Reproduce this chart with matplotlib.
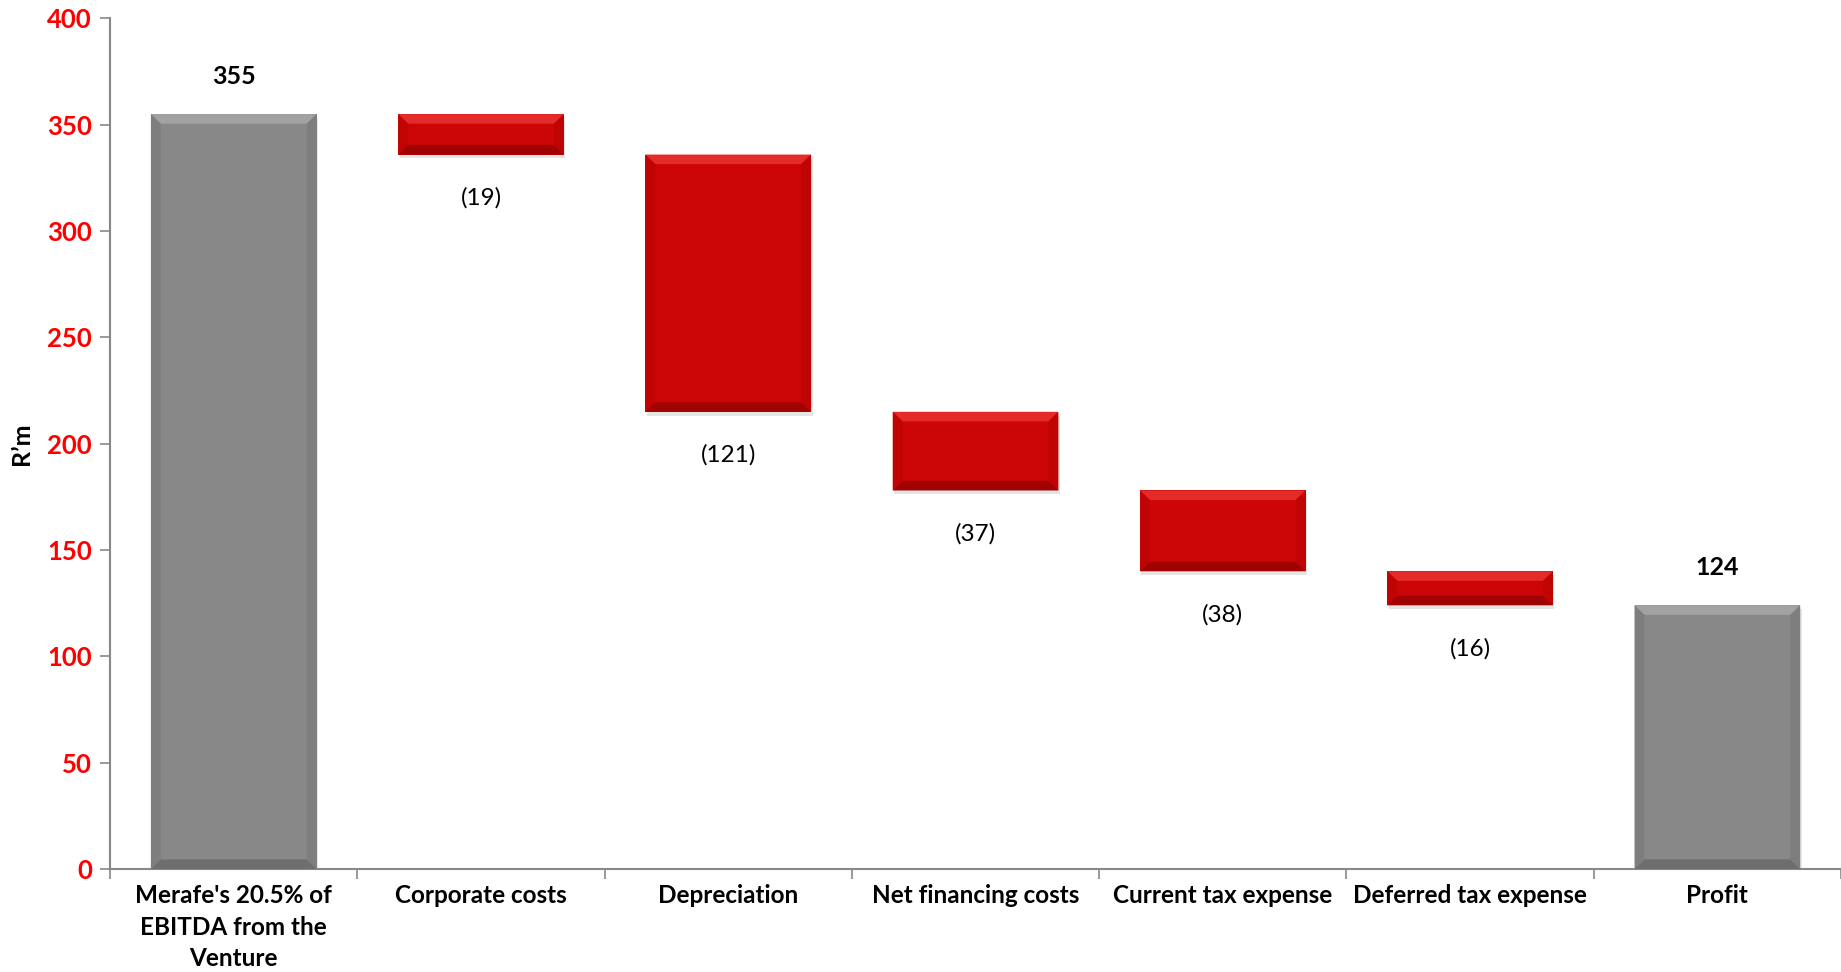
import numpy as np
import matplotlib
matplotlib.use("Agg")
import matplotlib.pyplot as plt
from matplotlib.patches import Polygon, Rectangle

plt.rcParams['font.family'] = ['Lato', 'DejaVu Sans']

categories = ["Merafe's 20.5% of\nEBITDA from the\nVenture", "Corporate costs", "Depreciation",
              "Net financing costs", "Current tax expense", "Deferred tax expense", "Profit"]
values = [355, -19, -121, -37, -38, -16, 124]
is_total = [True, False, False, False, False, False, True]
yticks = [0, 50, 100, 150, 200, 250, 300, 350, 400]

# waterfall bottoms/tops
bottoms = []
tops = []
running = 0
for v, tot in zip(values, is_total):
    if tot:
        bottoms.append(0)
        tops.append(v)
        running = v
    else:
        tops.append(running)
        running += v
        bottoms.append(running)

fig = plt.figure(figsize=(18.41, 9.72), dpi=100)
ax = fig.add_axes([0.0598, 0.106, 0.9402, 0.875])
ax.set_xlim(-0.5, len(values) - 0.5)
ax.set_ylim(0, 400)

width = 0.67
bev_x = 0.04
bev_y = 4.5


def bevel_bar(x, y0, y1, base, light, dark, side):
    xl, xr = x - width / 2, x + width / 2
    # soft shadow under the bar
    ax.add_patch(Rectangle((xl + 0.006, y0 - 1.8), width, y1 - y0, facecolor="#000000",
                           alpha=0.10, edgecolor="none", zorder=1))
    ax.add_patch(Rectangle((xl, y0), width, y1 - y0, facecolor=base, edgecolor="none", zorder=2))
    by = min(bev_y, (y1 - y0) / 3)
    ax.add_patch(Polygon([(xl, y1), (xr, y1), (xr - bev_x, y1 - by), (xl + bev_x, y1 - by)],
                         closed=True, facecolor=light, edgecolor="none", zorder=3))
    ax.add_patch(Polygon([(xl, y0), (xr, y0), (xr - bev_x, y0 + by), (xl + bev_x, y0 + by)],
                         closed=True, facecolor=dark, edgecolor="none", zorder=3))
    ax.add_patch(Polygon([(xl, y0), (xl, y1), (xl + bev_x, y1 - by), (xl + bev_x, y0 + by)],
                         closed=True, facecolor=side, edgecolor="none", zorder=3))
    ax.add_patch(Polygon([(xr, y0), (xr, y1), (xr - bev_x, y1 - by), (xr - bev_x, y0 + by)],
                         closed=True, facecolor=side, edgecolor="none", zorder=3))


for i, (v, tot) in enumerate(zip(values, is_total)):
    if tot:
        bevel_bar(i, bottoms[i], tops[i], "#888888", "#a2a2a2", "#6e6e6e", "#7e7e7e")
        ax.annotate(str(v), (i, tops[i]), xytext=(0, 27), textcoords="offset points",
                    ha="center", va="center", fontsize=18, fontweight="bold", color="black")
    else:
        bevel_bar(i, bottoms[i], tops[i], "#cc0606", "#e52a2a", "#a00202", "#c00404")
        ax.annotate("(%d)" % abs(v), (i, bottoms[i]), xytext=(0, -31), textcoords="offset points",
                    ha="center", va="center", fontsize=17.5, color="black")

ax.set_yticks(yticks)
ax.set_yticklabels([str(t) for t in yticks], color="#ff0000", fontweight="bold", fontsize=18.5)
ax.set_xticks(range(len(values)))
ax.set_xticklabels(categories, fontweight="bold", fontsize=17.5, va="top", linespacing=1.45)
ax.tick_params(axis="x", which="major", length=0, pad=11)
ax.set_xticks(np.arange(-0.5, len(values), 1.0), minor=True)
ax.tick_params(axis="x", which="minor", length=7, width=1.2, color="#888888", direction="out")
ax.tick_params(axis="y", length=7, width=1.2, color="#888888", direction="out", pad=6)

for s in ["top", "right"]:
    ax.spines[s].set_visible(False)
for s in ["left", "bottom"]:
    ax.spines[s].set_color("#888888")
    ax.spines[s].set_linewidth(1.5)

ax.set_ylabel("R\u2019m", fontweight="bold", fontsize=18, labelpad=10)

fig.savefig("out.png", dpi=100)
